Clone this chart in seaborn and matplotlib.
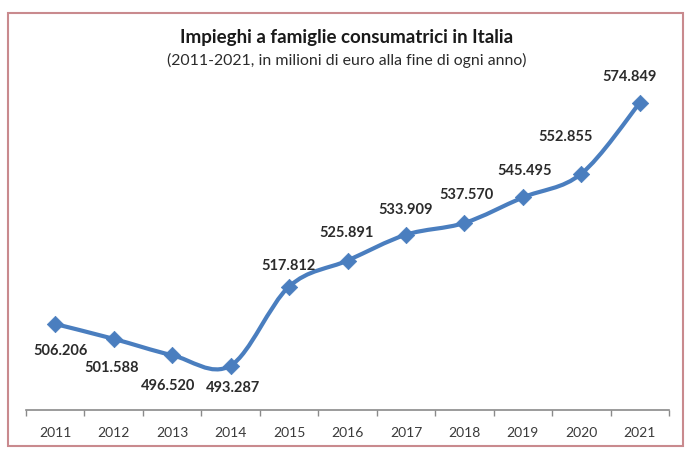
import numpy as np
import matplotlib
matplotlib.use("Agg")
import matplotlib.pyplot as plt
from matplotlib.path import Path
from matplotlib.patches import PathPatch, Rectangle
import seaborn as sns

# dati (milioni di euro, fine anno)
anni = ["2011", "2012", "2013", "2014", "2015", "2016", "2017", "2018", "2019", "2020", "2021"]
impieghi = [506.206, 501.588, 496.520, 493.287, 517.812, 525.891, 533.909,
            537.570, 545.495, 552.855, 574.849]
etichette = ["506.206", "501.588", "496.520", "493.287", "517.812", "525.891",
             "533.909", "537.570", "545.495", "552.855", "574.849"]

# spostamento delle etichette (pixel) rispetto al punto
off_x = [5, -2, -4, 2, -1, -1, 0, 2, 2, -16, -10]
off_y = [-27, -29, -31, -22, 21, 28, 25, 28, 26, 37, 26]

sns.set_theme(style="white")
plt.rcParams["font.family"] = ["Lato", "DejaVu Sans"]

blu = "#4a7ebf"
fig = plt.figure(figsize=(6.96, 4.57), dpi=100)
ax = fig.add_axes([26 / 696, 1 - 410 / 457, 643 / 696, 335 / 457])

x = np.arange(len(anni))
y = np.array(impieghi)

# linea smussata tipo Excel (bezier tra i punti)
verts = [(x[0], y[0])]
codes = [Path.MOVETO]
n = len(x)
for i in range(n - 1):
    p0 = np.array([x[max(i - 1, 0)], y[max(i - 1, 0)]])
    p1 = np.array([x[i], y[i]])
    p2 = np.array([x[i + 1], y[i + 1]])
    p3 = np.array([x[min(i + 2, n - 1)], y[min(i + 2, n - 1)]])
    c1 = p1 + (p2 - p0) / 6
    c2 = p2 - (p3 - p1) / 6
    verts += [tuple(c1), tuple(c2), tuple(p2)]
    codes += [Path.CURVE4] * 3
ax.add_patch(PathPatch(Path(verts, codes), facecolor="none", edgecolor=blu,
                       lw=3.0, capstyle="round", joinstyle="round", zorder=2))

sns.scatterplot(x=x, y=y, marker="D", s=70, color=blu, edgecolor=blu,
                linewidth=0.5, ax=ax, zorder=3)

for i in range(n):
    ax.annotate(etichette[i], (x[i], y[i]), xytext=(off_x[i], off_y[i]),
                textcoords="offset pixels", ha="center", va="center",
                fontsize=10.5, fontweight="bold", color="#2b2b2b")

ax.set_xlim(-0.5, n - 0.5)
ax.set_ylim(479.5, 583.5)
ax.set_xticks(x)
ax.set_xticklabels(anni, fontsize=10, color="#3a3a3a")
ax.set_xticks(np.arange(n + 1) - 0.5, minor=True)
ax.tick_params(axis="x", which="major", length=0, pad=12)
ax.tick_params(axis="x", which="minor", length=4, width=1, color="#8a8a8a",
               direction="out", bottom=True)
ax.set_yticks([])
for s in ["left", "right", "top"]:
    ax.spines[s].set_visible(False)
ax.spines["bottom"].set_color("#8a8a8a")
ax.spines["bottom"].set_linewidth(1.2)
ax.set_xlabel("")
ax.set_ylabel("")

fig.text(347 / 696, 1 - 38 / 457, "Impieghi a famiglie consumatrici in Italia",
         ha="center", va="center", fontsize=13.5, fontweight="bold", color="#1a1a1a")
fig.text(347 / 696, 1 - 60 / 457, "(2011-2021, in milioni di euro alla fine di ogni anno)",
         ha="center", va="center", fontsize=11.4, color="#2b2b2b")

# cornice
fig.patches.append(Rectangle((8 / 696, 1 - 446 / 457), 675 / 696, 433 / 457,
                             transform=fig.transFigure, fill=False,
                             edgecolor="#c98a8e", lw=1.5))

fig.savefig("out.png", dpi=100)
